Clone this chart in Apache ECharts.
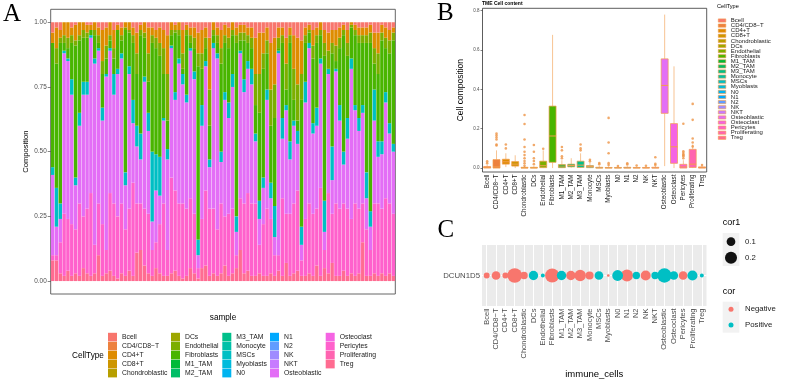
<!DOCTYPE html>
<html>
<head>
<meta charset="utf-8">
<script src="https://cdn.jsdelivr.net/npm/echarts@6/dist/echarts.min.js"></script>
<style>
  html, body { margin: 0; padding: 0; background: #fff; }
  #chart { width: 790px; height: 385px; }
</style>
</head>
<body>
<div id="chart"></div>
<script>
// ============================================================
// data
// ============================================================

var CELL_TYPES = ['Bcell', 'CD4/CD8\u2212T', 'CD4+T', 'CD8+T', 'Chondroblastic', 'DCs', 'Endothelial',
  'Fibroblasts', 'M1_TAM', 'M2_TAM', 'M3_TAM', 'Monocyte', 'MSCs', 'Myoblasts', 'N0', 'N1', 'N2',
  'NK', 'NKT', 'Osteoblastic', 'Osteoclast', 'Pericytes', 'Proliferating', 'Treg'];

// panel A: cumulative boundaries per sample
var tregSeg = [
  0.08, 0.08, 0.03, 0.02, 0.04, 0.02, 0.03, 0.02, 0.05, 0.03,
  0.02, 0.03, 0.10, 0.02, 0.03, 0.04, 0.02, 0.01, 0.03, 0.02,
  0.04, 0.02, 0.11, 0.12, 0.06, 0.03, 0.02, 0.05, 0.03, 0.02,
  0.02, 0.03, 0.04, 0.02, 0.01, 0.02, 0.05, 0.03, 0.01, 0.05,
  0.06, 0.02, 0.03, 0.02, 0.03, 0.06, 0.02, 0.03, 0.05, 0.12,
  0.03, 0.04, 0.02, 0.02, 0.03, 0.02, 0.02, 0.03, 0.02, 0.04,
  0.02, 0.07, 0.02, 0.03, 0.04, 0.02, 0.02, 0.03, 0.02, 0.06,
  0.02, 0.05, 0.03, 0.07, 0.02, 0.02, 0.04, 0.02, 0.03, 0.02,
  0.03, 0.15, 0.02, 0.02, 0.03, 0.02, 0.03, 0.02, 0.03, 0.02];
var pinkTop = [
  0.10, 0.10, 0.15, 0.26, 0.24, 0.22, 0.20, 0.30, 0.25, 0.28,
  0.34, 0.14, 0.30, 0.22, 0.12, 0.34, 0.30, 0.25, 0.30, 0.20,
  0.28, 0.38, 0.30, 0.30, 0.28, 0.26, 0.12, 0.15, 0.22, 0.30,
  0.12, 0.40, 0.35, 0.30, 0.30, 0.28, 0.32, 0.26, 0.05, 0.24,
  0.35, 0.28, 0.28, 0.20, 0.30, 0.25, 0.26, 0.28, 0.10, 0.32,
  0.30, 0.34, 0.30, 0.30, 0.14, 0.22, 0.28, 0.24, 0.10, 0.10,
  0.32, 0.26, 0.26, 0.30, 0.35, 0.08, 0.24, 0.30, 0.26, 0.28,
  0.36, 0.12, 0.34, 0.26, 0.30, 0.28, 0.30, 0.28, 0.24, 0.30,
  0.28, 0.30, 0.20, 0.12, 0.30, 0.30, 0.28, 0.32, 0.30, 0.26];
var violetTop = [
  0.41, 0.21, 0.24, 0.88, 0.85, 0.72, 0.37, 0.60, 0.72, 0.72,
  0.94, 0.84, 0.89, 0.62, 0.79, 0.89, 0.72, 0.80, 0.86, 0.37,
  0.80, 0.61, 0.52, 0.47, 0.77, 0.58, 0.23, 0.35, 0.33, 0.62,
  0.47, 0.90, 0.70, 0.84, 0.76, 0.69, 0.89, 0.78, 0.10, 0.60,
  0.83, 0.44, 0.90, 0.86, 0.46, 0.70, 0.63, 0.75, 0.19, 0.88,
  0.73, 0.82, 0.76, 0.54, 0.24, 0.36, 0.70, 0.32, 0.17, 0.88,
  0.55, 0.66, 0.47, 0.60, 0.53, 0.14, 0.69, 0.90, 0.57, 0.60,
  0.84, 0.19, 0.80, 0.39, 0.81, 0.62, 0.45, 0.55, 0.82, 0.66,
  0.58, 0.65, 0.32, 0.21, 0.62, 0.48, 0.49, 0.69, 0.57, 0.50];
var cyanTop = [
  0.44, 0.36, 0.30, 0.89, 0.86, 0.78, 0.40, 0.65, 0.77, 0.77,
  0.95, 0.86, 0.90, 0.67, 0.80, 0.90, 0.80, 0.82, 0.88, 0.42,
  0.83, 0.70, 0.60, 0.57, 0.79, 0.65, 0.50, 0.49, 0.48, 0.63,
  0.51, 0.91, 0.73, 0.86, 0.80, 0.72, 0.90, 0.81, 0.16, 0.68,
  0.85, 0.47, 0.92, 0.88, 0.50, 0.73, 0.69, 0.80, 0.25, 0.89,
  0.78, 0.85, 0.82, 0.57, 0.31, 0.40, 0.74, 0.38, 0.29, 0.89,
  0.63, 0.68, 0.54, 0.62, 0.58, 0.21, 0.77, 0.92, 0.61, 0.67,
  0.86, 0.31, 0.82, 0.52, 0.82, 0.68, 0.50, 0.63, 0.86, 0.68,
  0.63, 0.68, 0.42, 0.27, 0.74, 0.54, 0.54, 0.73, 0.61, 0.53];
var greenTop = [
  0.92, 0.84, 0.92, 0.92, 0.90, 0.92, 0.91, 0.93, 0.94, 0.94,
  0.97, 0.95, 0.92, 0.80, 0.86, 0.93, 0.86, 0.97, 0.93, 0.97,
  0.96, 0.92, 0.80, 0.95, 0.94, 0.77, 0.92, 0.90, 0.87, 0.80,
  0.62, 0.95, 0.96, 0.95, 0.82, 0.95, 0.92, 0.90, 0.83, 0.82,
  0.90, 0.60, 0.95, 0.92, 0.84, 0.92, 0.90, 0.95, 0.92, 0.93,
  0.93, 0.92, 0.90, 0.68, 0.65, 0.82, 0.88, 0.60, 0.63, 0.90,
  0.92, 0.74, 0.92, 0.70, 0.62, 0.70, 0.92, 0.96, 0.86, 0.92,
  0.95, 0.87, 0.82, 0.88, 0.85, 0.90, 0.95, 0.87, 0.98, 0.95,
  0.92, 0.92, 0.92, 0.92, 0.84, 0.80, 0.93, 0.90, 0.88, 0.93];
var oliveSeg = [
  0.00, 0.06, 0.02, 0.03, 0.04, 0.03, 0.02, 0.02, 0.03, 0.02,
  0.00, 0.02, 0.03, 0.05, 0.05, 0.02, 0.04, 0.00, 0.02, 0.01,
  0.01, 0.03, 0.08, 0.02, 0.02, 0.11, 0.03, 0.04, 0.05, 0.10,
  0.18, 0.02, 0.01, 0.02, 0.06, 0.02, 0.03, 0.04, 0.05, 0.06,
  0.04, 0.14, 0.02, 0.03, 0.06, 0.03, 0.04, 0.02, 0.03, 0.03,
  0.03, 0.03, 0.04, 0.12, 0.15, 0.06, 0.05, 0.14, 0.13, 0.04,
  0.03, 0.10, 0.03, 0.12, 0.14, 0.10, 0.03, 0.01, 0.05, 0.03,
  0.02, 0.05, 0.07, 0.04, 0.06, 0.04, 0.02, 0.05, 0.01, 0.02,
  0.03, 0.03, 0.03, 0.04, 0.06, 0.08, 0.03, 0.04, 0.05, 0.03];
var bcellSeg = [
  0.04, 0.02, 0.03, 0.00, 0.00, 0.02, 0.01, 0.00, 0.00, 0.01,
  0.01, 0.00, 0.02, 0.03, 0.02, 0.00, 0.03, 0.01, 0.02, 0.00,
  0.00, 0.02, 0.04, 0.01, 0.00, 0.02, 0.02, 0.03, 0.02, 0.03,
  0.05, 0.00, 0.01, 0.00, 0.03, 0.01, 0.02, 0.02, 0.04, 0.03,
  0.02, 0.06, 0.00, 0.02, 0.03, 0.01, 0.02, 0.00, 0.02, 0.01,
  0.01, 0.02, 0.02, 0.06, 0.04, 0.04, 0.02, 0.08, 0.06, 0.02,
  0.02, 0.06, 0.02, 0.05, 0.06, 0.07, 0.02, 0.01, 0.03, 0.02,
  0.00, 0.03, 0.04, 0.03, 0.03, 0.02, 0.01, 0.03, 0.00, 0.01,
  0.02, 0.02, 0.02, 0.01, 0.04, 0.04, 0.01, 0.02, 0.03, 0.02];

// panel B: boxplot stats per cell type (min, q1, median, q3, max)
var boxMin = [0, 0, 0.005, 0, 0, 0, 0, 0, 0, 0.002, 0, 0, 0, 0, 0, 0, 0, 0, 0, 0.01, 0, 0, 0, 0];
var boxQ1  = [0, 0, 0.02, 0.01, 0, 0, 0.002, 0.029, 0.002, 0.006, 0.003, 0.002, 0, 0, 0, 0, 0, 0, 0, 0.278, 0.024, 0, 0.003, 0];
var boxMed = [0.003, 0.006, 0.032, 0.02, 0.001, 0.001, 0.012, 0.163, 0.01, 0.013, 0.015, 0.008, 0.001, 0.001, 0.001, 0.001, 0.001, 0.001, 0.001, 0.42, 0.108, 0.006, 0.02, 0.002];
var boxQ3  = [0.008, 0.043, 0.045, 0.033, 0.004, 0.004, 0.035, 0.315, 0.018, 0.02, 0.035, 0.013, 0.004, 0.003, 0.003, 0.004, 0.003, 0.003, 0.004, 0.555, 0.226, 0.019, 0.095, 0.006];
var boxMax = [0.018, 0.09, 0.075, 0.065, 0.01, 0.01, 0.09, 0.677, 0.04, 0.05, 0.075, 0.03, 0.012, 0.008, 0.008, 0.01, 0.008, 0.008, 0.01, 0.78, 0.517, 0.04, 0.12, 0.012];
var boxOutliers = [
  ['Bcell', 0.025], ['Bcell', 0.035],
  ['CD4/CD8\u2212T', 0.115], ['CD4/CD8\u2212T', 0.12], ['CD4/CD8\u2212T', 0.145], ['CD4/CD8\u2212T', 0.155], ['CD4/CD8\u2212T', 0.165], ['CD4/CD8\u2212T', 0.175],
  ['CD4+T', 0.1], ['CD4+T', 0.12],
  ['Chondroblastic', 0.012], ['Chondroblastic', 0.024], ['Chondroblastic', 0.036], ['Chondroblastic', 0.05], ['Chondroblastic', 0.066],
  ['Chondroblastic', 0.083], ['Chondroblastic', 0.107], ['Chondroblastic', 0.145], ['Chondroblastic', 0.224], ['Chondroblastic', 0.27],
  ['DCs', 0.02], ['DCs', 0.036], ['DCs', 0.05], ['DCs', 0.083], ['DCs', 0.117],
  ['Endothelial', 0.098],
  ['M1_TAM', 0.05], ['M1_TAM', 0.06], ['M1_TAM', 0.09], ['M1_TAM', 0.107],
  ['M3_TAM', 0.09], ['M3_TAM', 0.1], ['M3_TAM', 0.12],
  ['Monocyte', 0.035], ['Monocyte', 0.042],
  ['MSCs', 0.02], ['MSCs', 0.026],
  ['Myoblasts', 0.015], ['Myoblasts', 0.025], ['Myoblasts', 0.075], ['Myoblasts', 0.13], ['Myoblasts', 0.255],
  ['N0', 0.01], ['N1', 0.018], ['N1', 0.024], ['N2', 0.013], ['NK', 0.012],
  ['NKT', 0.015], ['NKT', 0.022], ['NKT', 0.055],
  ['Pericytes', 0.05], ['Pericytes', 0.06], ['Pericytes', 0.065], ['Pericytes', 0.07], ['Pericytes', 0.078], ['Pericytes', 0.085], ['Pericytes', 0.225],
  ['Proliferating', 0.11], ['Proliferating', 0.13], ['Proliferating', 0.15], ['Proliferating', 0.245], ['Proliferating', 0.326],
  ['Treg', 0.015]];

// panel C: correlation of DCUN1D5 with each cell type
var corValues = [-0.05, -0.1, -0.05, -0.31, -0.072, 0.117, 0.033, -0.284, 0.117, -0.117, -0.177, -0.086,
  0.1, -0.03, 0.157, -0.2, 0.072, -0.136, 0.072, 0.3, 0.1, -0.1, 0.136, 0.033];

var A_TICKS = [0, 0.25, 0.5, 0.75, 1];
var B_TICKS = [0, 0.2, 0.4, 0.6, 0.8];

// ============================================================
// colours (ggplot2 hue palette)
// ============================================================

function hcl(h, c, l) {
  var hr = h * Math.PI / 180;
  var U = c * Math.cos(hr), V = c * Math.sin(hr);
  var Xn = 95.047, Yn = 100, Zn = 108.883;
  var un = 4 * Xn / (Xn + 15 * Yn + 3 * Zn), vn = 9 * Yn / (Xn + 15 * Yn + 3 * Zn);
  var Y = l > 8 ? Yn * Math.pow((l + 16) / 116, 3) : Yn * l / 903.3;
  var up = U / (13 * l) + un, vp = V / (13 * l) + vn;
  var X = Y * 9 * up / (4 * vp), Z = Y * (12 - 3 * up - 20 * vp) / (4 * vp);
  X /= 100; Y /= 100; Z /= 100;
  var rgb = [
    3.240479 * X - 1.537150 * Y - 0.498535 * Z,
    -0.969256 * X + 1.875992 * Y + 0.041556 * Z,
    0.055648 * X - 0.204043 * Y + 1.057311 * Z
  ].map(function(t) {
    t = t <= 0.0031308 ? 12.92 * t : 1.055 * Math.pow(t, 1 / 2.4) - 0.055;
    return Math.round(Math.max(0, Math.min(1, t)) * 255);
  });
  return 'rgb(' + rgb.join(',') + ')';
}

var HUES = CELL_TYPES.map(function(_, i) { return hcl(15 + 15 * i, 100, 65); });
var BOX_LINE = '#F29C4C';
var FONT = '"Liberation Sans", Arial, sans-serif';

// ============================================================
// panel A series
// ============================================================

var samples = violetTop.map(function(_, i) { return 'S' + (i + 1); });
function r3(v) { return Math.round(v * 1000) / 1000; }

var segments = {
  'Treg': tregSeg,
  'Pericytes': pinkTop.map(function(v, i) { return r3(v - tregSeg[i]); }),
  'Osteoblastic': violetTop.map(function(v, i) { return r3(v - pinkTop[i]); }),
  'MSCs': cyanTop.map(function(v, i) { return r3(v - violetTop[i]); }),
  'Fibroblasts': greenTop.map(function(v, i) { return r3(v - cyanTop[i]); }),
  'Endothelial': oliveSeg,
  'CD4+T': greenTop.map(function(v, i) { return r3(1 - v - oliveSeg[i] - bcellSeg[i]); }),
  'Bcell': bcellSeg
};

var series = [];
CELL_TYPES.slice().reverse().forEach(function(name) {
  var idx = CELL_TYPES.indexOf(name);
  series.push({
    name: name,
    type: 'bar',
    stack: 'comp',
    xAxisIndex: 0,
    yAxisIndex: 0,
    barCategoryGap: '10%',
    color: HUES[idx],
    data: segments[name] || []
  });
});

// ============================================================
// panel B series (ggplot-style boxes: no whisker caps)
// ============================================================

series.push({
  name: 'box',
  type: 'custom',
  xAxisIndex: 1,
  yAxisIndex: 1,
  encode: { x: 0, y: [1, 2, 3, 4, 5] },
  data: CELL_TYPES.map(function(name, i) {
    return [i, boxMin[i], boxQ1[i], boxMed[i], boxQ3[i], boxMax[i]];
  }),
  renderItem: function(params, api) {
    var i = api.value(0);
    var w = api.size([1, 0])[0] * 0.75;
    var pMin = api.coord([i, api.value(1)]);
    var pQ1 = api.coord([i, api.value(2)]);
    var pMed = api.coord([i, api.value(3)]);
    var pQ3 = api.coord([i, api.value(4)]);
    var pMax = api.coord([i, api.value(5)]);
    var x = pQ1[0];
    var lineStyle = { stroke: BOX_LINE, lineWidth: 0.6, fill: null };
    return {
      type: 'group',
      children: [
        { type: 'line', shape: { x1: x, y1: pQ3[1], x2: x, y2: pMax[1] }, style: lineStyle },
        { type: 'line', shape: { x1: x, y1: pQ1[1], x2: x, y2: pMin[1] }, style: lineStyle },
        { type: 'rect', shape: { x: x - w / 2, y: pQ3[1], width: w, height: Math.max(0.6, pQ1[1] - pQ3[1]) },
          style: { fill: HUES[i], stroke: BOX_LINE, lineWidth: 0.7 } },
        { type: 'line', shape: { x1: x - w / 2, y1: pMed[1], x2: x + w / 2, y2: pMed[1] },
          style: { stroke: BOX_LINE, lineWidth: 1 } }
      ]
    };
  }
});
series.push({
  name: 'outliers',
  type: 'scatter',
  xAxisIndex: 1,
  yAxisIndex: 1,
  symbolSize: 2.6,
  itemStyle: { color: '#EE9445' },
  data: boxOutliers
});

// ============================================================
// panel C series
// ============================================================

function dotSize(v) {
  return 2.7 + 12 * Math.sqrt(Math.max(0, (v - 0.03) / 0.28));
}

var gridLines = CELL_TYPES.map(function(name) { return { xAxis: name }; });
gridLines.push({ yAxis: 'DCUN1D5' });

series.push({
  name: 'grid-lines',
  type: 'scatter',
  xAxisIndex: 2,
  yAxisIndex: 2,
  z: 1,
  data: [],
  markLine: {
    silent: true,
    z: 1,
    symbol: 'none',
    label: { show: false },
    lineStyle: { color: '#fff', width: 1, type: 'solid' },
    data: gridLines
  }
});

['Negative', 'Positive'].forEach(function(sign) {
  var data = [];
  CELL_TYPES.forEach(function(name, i) {
    var v = corValues[i];
    if ((sign === 'Negative') === (v < 0)) data.push([name, 'DCUN1D5', v]);
  });
  series.push({
    name: sign,
    type: 'scatter',
    xAxisIndex: 2,
    yAxisIndex: 2,
    z: 5,
    symbolSize: function(val) { return dotSize(Math.abs(val[2])); },
    itemStyle: { color: sign === 'Negative' ? '#F8766D' : '#00BFC4', opacity: 1 },
    data: data
  });
});

// ============================================================
// legends
// ============================================================

var legendX = [108, 171, 222.3, 270, 325.7];
var legends = legendX.map(function(x, k) {
  return {
    orient: 'vertical',
    left: x,
    top: 332.8,
    padding: 0,
    itemWidth: 9,
    itemHeight: 8.6,
    itemGap: 0.4,
    icon: 'rect',
    selectedMode: false,
    data: CELL_TYPES.slice(k * 5, k * 5 + 5),
    textStyle: { fontSize: 6.8, color: '#1a1a1a', fontFamily: FONT }
  };
});
legends.push({
  orient: 'vertical',
  left: 718,
  top: 17.5,
  padding: 0,
  itemWidth: 7.5,
  itemHeight: 3.2,
  itemGap: -0.9,
  icon: 'rect',
  selectedMode: false,
  data: CELL_TYPES,
  itemStyle: { borderColor: BOX_LINE, borderWidth: 0.6 },
  textStyle: { fontSize: 6, lineHeight: 5, color: '#1a1a1a', fontFamily: FONT }
});

function txt(x, y, text, size, extra) {
  var style = Object.assign({ text: text, fontSize: size, fontFamily: FONT, fill: '#000',
    align: 'left', verticalAlign: 'middle' }, extra || {});
  return { type: 'text', x: x, y: y, silent: true, style: style };
}

var graphics = [
  txt(3, 14, 'A', 25, { fontFamily: '"Liberation Serif", serif' }),
  txt(437, 13, 'B', 25, { fontFamily: '"Liberation Serif", serif' }),
  txt(437.5, 230.5, 'C', 25, { fontFamily: '"Liberation Serif", serif' }),
  txt(482, 3.5, 'TME Cell content', 5, { fontWeight: 'bold' }),
  txt(72, 356, 'CellType', 8.2),
  txt(717, 6.5, 'CellType', 5.6),
  txt(722.7, 223, 'cor1', 9),
  { type: 'rect', silent: true, shape: { x: 722.7, y: 233, width: 16.6, height: 33 }, style: { fill: '#F2F2F2' } },
  { type: 'circle', silent: true, shape: { cx: 731, cy: 241.7, r: dotSize(0.1) / 2 }, style: { fill: '#111' } },
  { type: 'circle', silent: true, shape: { cx: 731, cy: 257.7, r: dotSize(0.2) / 2 }, style: { fill: '#111' } },
  txt(745, 241.7, '0.1', 7.8, { fill: '#1a1a1a' }),
  txt(745, 257.7, '0.2', 7.8, { fill: '#1a1a1a' }),
  txt(722.7, 292, 'cor', 9),
  { type: 'rect', silent: true, shape: { x: 722.7, y: 301.7, width: 16.6, height: 31 }, style: { fill: '#F2F2F2' } },
  { type: 'circle', silent: true, shape: { cx: 731, cy: 309.3, r: 2.5 }, style: { fill: '#F8766D' } },
  { type: 'circle', silent: true, shape: { cx: 731, cy: 325, r: 2.5 }, style: { fill: '#00BFC4' } },
  txt(745, 309.3, 'Negative', 7.8, { fill: '#1a1a1a' }),
  txt(745, 325, 'Positive', 7.8, { fill: '#1a1a1a' })
];

// ============================================================
// chart
// ============================================================

var chart = echarts.init(document.getElementById('chart'), null, { renderer: 'canvas' });

chart.setOption({
  animation: false,
  backgroundColor: '#fff',
  textStyle: { fontFamily: FONT },
  legend: legends,
  graphic: graphics,
  grid: [
    { left: 50.7, top: 9.3, width: 344.6, height: 284.7, show: true, borderColor: '#555', borderWidth: 0.9, backgroundColor: 'transparent' },
    { left: 482.5, top: 8.3, width: 224.2, height: 163.7, show: true, borderColor: '#333', borderWidth: 0.8, backgroundColor: 'transparent' },
    { left: 482, top: 245, width: 224.5, height: 61, show: true, borderWidth: 0, backgroundColor: '#EBEBEB' }
  ],
  xAxis: [
    {
      gridIndex: 0, type: 'category', data: samples,
      name: 'sample', nameLocation: 'middle', nameGap: 20,
      nameTextStyle: { fontSize: 8.2, color: '#000' },
      axisLine: { show: false },
      axisTick: { alignWithLabel: true, interval: 0, length: 3, lineStyle: { color: '#333', width: 0.6 } },
      axisLabel: { show: false }
    },
    {
      gridIndex: 1, type: 'category', data: CELL_TYPES,
      axisLine: { show: false },
      axisTick: { alignWithLabel: true, interval: 0, length: 2, lineStyle: { color: '#333', width: 0.6 } },
      axisLabel: { interval: 0, rotate: 90, fontSize: 6.3, color: '#1a1a1a', margin: 2.5 }
    },
    {
      gridIndex: 2, type: 'category', data: CELL_TYPES,
      name: 'immune_cells', nameLocation: 'middle', nameGap: 63,
      nameTextStyle: { fontSize: 9.5, color: '#000' },
      axisLine: { show: false },
      axisTick: { alignWithLabel: true, interval: 0, length: 3, lineStyle: { color: '#333', width: 0.7 } },
      axisLabel: { interval: 0, rotate: 90, fontSize: 7.5, color: '#4D4D4D', margin: 2.5 }
    }
  ],
  yAxis: [
    {
      gridIndex: 0, type: 'value', min: -0.05, max: 1.05,
      name: 'Composition', nameLocation: 'middle', nameGap: 21, nameRotate: 90,
      nameTextStyle: { fontSize: 7.6, color: '#000' },
      axisLine: { show: false },
      splitLine: { show: false },
      axisTick: { show: true, customValues: A_TICKS, length: 3, lineStyle: { color: '#333', width: 0.6 } },
      axisLabel: { customValues: A_TICKS, fontSize: 6.4, color: '#4D4D4D', margin: 4,
        formatter: function(v) { return v.toFixed(2); } }
    },
    {
      gridIndex: 1, type: 'value', min: -0.02, max: 0.812,
      name: 'Cell composition', nameLocation: 'middle', nameGap: 17, nameRotate: 90,
      nameTextStyle: { fontSize: 8.5, color: '#000' },
      axisLine: { show: false },
      splitLine: { show: false },
      axisTick: { show: true, customValues: B_TICKS, length: 2, lineStyle: { color: '#333', width: 0.6 } },
      axisLabel: { customValues: B_TICKS, fontSize: 4.5, color: '#4D4D4D', margin: 3,
        formatter: function(v) { return v.toFixed(1); } }
    },
    {
      gridIndex: 2, type: 'category', data: ['DCUN1D5'],
      axisLine: { show: false },
      splitLine: { show: false },
      axisTick: { alignWithLabel: true, length: 3, lineStyle: { color: '#333', width: 0.7 } },
      axisLabel: { fontSize: 7.8, color: '#4D4D4D', margin: 2 }
    }
  ],
  series: series
});
</script>
</body>
</html>
